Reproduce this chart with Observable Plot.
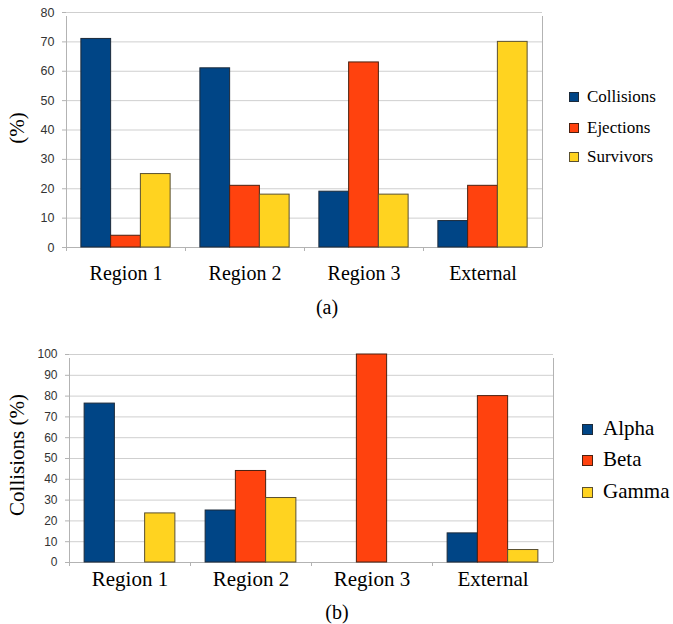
<!DOCTYPE html>
<html><head><meta charset="utf-8">
<script src="https://cdn.jsdelivr.net/npm/d3@7"></script>
<script src="https://cdn.jsdelivr.net/npm/@observablehq/plot@0.6"></script>
<style>
body{margin:0;background:#fff;}
#wrap{position:relative;width:673px;height:624px;overflow:hidden;background:#fff;}
.chart{position:absolute;left:0;}
.lg{position:absolute;font-family:"Liberation Serif","Times New Roman",serif;color:#000;white-space:nowrap;}
.sw{position:absolute;box-sizing:border-box;}
.cap{position:absolute;font-family:"Liberation Serif","Times New Roman",serif;color:#000;transform:translate(-50%,-50%);white-space:nowrap;}
.ylab{position:absolute;font-family:"Liberation Serif","Times New Roman",serif;color:#000;white-space:nowrap;transform:translate(-50%,-50%) rotate(-90deg);}
</style></head><body><div id="wrap"></div>
<script>
// ---- data ----
const categories = ["Region 1", "Region 2", "Region 3", "External"];
const seriesA = ["Collisions", "Ejections", "Survivors"];
const collisionsA = [71, 61, 19, 9];
const ejectionsA = [4, 21, 63, 21];
const survivorsA = [25, 18, 18, 70];
const yTicksA = [0, 10, 20, 30, 40, 50, 60, 70, 80];

const seriesB = ["Alpha", "Beta", "Gamma"];
const alphaB = [76.4, 25, 0, 14];
const betaB = [0, 44, 100, 80];
const gammaB = [23.6, 31, 0, 6];
const yTicksB = [0, 10, 20, 30, 40, 50, 60, 70, 80, 90, 100];

const colors = ["#004586", "#ff420e", "#ffd320"];
const strokes = ["#1c2a3a", "#4a2010", "#5a5030"];

const wrap = document.getElementById("wrap");

function makeChart(cfg) {
  const {series, values, ticks, top, height, margins, fxPad, catSize, tickSize} = cfg;
  const data = [];
  categories.forEach((c, i) => series.forEach((s, j) => {
    data.push({cat: c, series: s, idx: j, value: values[j][i]});
  }));
  const n = series.length;
  const yMax = ticks[ticks.length - 1];
  const grey = "#b3b3b3";
  const chart = Plot.plot({
    width: 673,
    height,
    marginLeft: margins[0], marginRight: margins[1], marginTop: margins[2], marginBottom: margins[3],
    style: {background: "transparent"},
    fx: {domain: categories, padding: 0, label: null},
    x: {domain: [-0.5, n + 0.5], axis: null},
    y: {domain: [0, yMax]},
    color: {domain: series, range: colors},
    marks: [
      Plot.gridY(ticks, {stroke: "#cfcfcf", strokeOpacity: 1}),
      Plot.ruleY([0], {stroke: grey}),
      Plot.ruleX([-0.5], {y1: 0, y2: 0, insetBottom: -4, stroke: grey}),
      Plot.ruleX([categories[0]], {fx: d => d, x: -0.5, y1: 0, y2: yMax, insetBottom: -4, stroke: grey}),
      Plot.ruleX([categories[categories.length - 1]], {fx: d => d, x: n + 0.5, y1: 0, y2: yMax, insetBottom: -4, stroke: grey}),
      Plot.rect(data.filter(d => d.value > 0), {
        fx: "cat", x1: "idx", x2: d => d.idx + 1, y1: 0, y2: "value",
        fill: "series", stroke: d => strokes[series.indexOf(d.series)], strokeWidth: 1
      }),
      Plot.axisY(ticks, {tickSize: 4, tickPadding: 8, fontSize: tickSize, fontFamily: "Liberation Sans, Arial, sans-serif", fill: "#333", stroke: grey, label: null}),
      Plot.axisFx({anchor: "bottom", tickSize: 0, tickPadding: fxPad, fontSize: catSize, fontFamily: "Liberation Serif, Times New Roman, serif", fill: "#000", label: null})
    ]
  });
  chart.classList.add("chart");
  chart.style.top = top + "px";
  wrap.appendChild(chart);
}

makeChart({series: seriesA, values: [collisionsA, ejectionsA, survivorsA], ticks: yTicksA,
  top: 0, height: 290, margins: [65, 130, 12, 43], fxPad: 18, catSize: 20, tickSize: 12.5});
makeChart({series: seriesB, values: [alphaB, betaB, gammaB], ticks: yTicksB,
  top: 330, height: 290, margins: [67, 119, 24, 58], fxPad: 8.5, catSize: 21, tickSize: 12});

function legend(series, x, tx, ys, box, fs) {
  series.forEach((s, i) => {
    const sw = document.createElement("div");
    sw.className = "sw";
    Object.assign(sw.style, {left: x + "px", top: (ys[i] - box / 2) + "px", width: box + "px", height: box + "px",
      background: colors[i], border: "1px solid " + strokes[i]});
    wrap.appendChild(sw);
    const t = document.createElement("div");
    t.className = "lg";
    t.textContent = s;
    Object.assign(t.style, {left: tx + "px", top: (ys[i] - fs * 0.6) + "px", fontSize: fs + "px", lineHeight: (fs * 1.2) + "px"});
    wrap.appendChild(t);
  });
}
legend(seriesA, 569, 587, [97, 128, 157], 10, 17);
legend(seriesB, 582, 603, [429, 460, 492], 11, 21);

function text(cls, s, x, y, fs) {
  const d = document.createElement("div");
  d.className = cls;
  d.textContent = s;
  Object.assign(d.style, {left: x + "px", top: y + "px", fontSize: fs + "px"});
  wrap.appendChild(d);
}
text("ylab", "(%)", 17, 128, 21);
text("ylab", "Collisions (%)", 17, 455, 21);
text("cap", "(a)", 327, 307, 20);
text("cap", "(b)", 337, 612, 20);
</script></body></html>
